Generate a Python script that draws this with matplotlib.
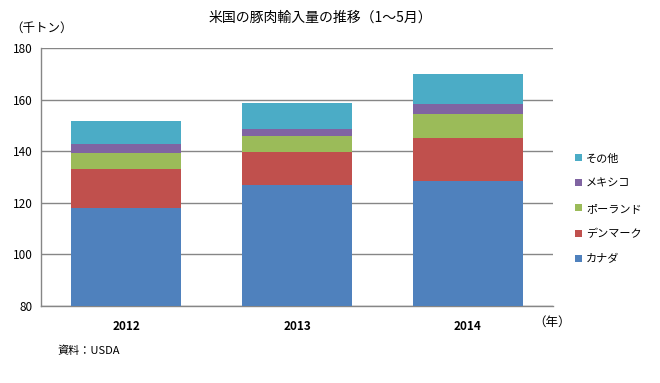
import matplotlib
matplotlib.use("Agg")
import matplotlib.pyplot as plt
import numpy as np

plt.rcParams['font.family'] = ['Noto Sans CJK JP', 'DejaVu Sans']

years = ["2012", "2013", "2014"]
series_names = ["カナダ", "デンマーク", "ポーランド", "メキシコ", "その他"]
canada = [118.0, 126.8, 128.4]
denmark = [15.1, 12.9, 16.7]
poland = [6.1, 6.2, 9.3]
mexico = [3.7, 2.7, 3.9]
other = [8.8, 10.1, 11.6]
colors = ["#4F81BD", "#C0504D", "#9BBB59", "#8064A2", "#4BACC6"]
yticks = [80, 100, 120, 140, 160, 180]

fig = plt.figure(figsize=(6.6, 3.83), dpi=100)
ax = fig.add_axes([41/660, 77/383, 512/660, 258/383])

x = np.arange(len(years))
bottom = np.zeros(len(years))
handles = []
for name, vals, c in zip(series_names, [canada, denmark, poland, mexico, other], colors):
    vals = np.array(vals)
    if name == "カナダ":
        b = ax.bar(x, vals - 80, bottom=80, width=0.643, color=c, zorder=3)
        bottom = vals.copy()
    else:
        b = ax.bar(x, vals, bottom=bottom, width=0.643, color=c, zorder=3)
        bottom = bottom + vals
    handles.append(b)

ax.set_xlim(-0.5, 2.5)
ax.set_ylim(80, 180)
ax.set_yticks(yticks)
ax.set_yticklabels([str(v) for v in yticks], fontsize=8.5)
ax.set_xticks(x)
ax.set_xticklabels(years, fontsize=8.5, fontweight='bold')
ax.tick_params(axis='x', length=0, pad=10)
ax.tick_params(axis='y', length=0, pad=6)
ax.grid(axis='y', color='#868686', linewidth=1, zorder=0)
for s in ['top', 'right']:
    ax.spines[s].set_visible(False)
for s in ['left', 'bottom']:
    ax.spines[s].set_color('#868686')
    ax.spines[s].set_linewidth(1)

fig.text(320/660, 1 - 18/383, "米国の豚肉輸入量の推移（1～5月）", ha='center', va='center', fontsize=10)
fig.text(10/660, 1 - 28/383, "（千トン）", ha='left', va='center', fontsize=9)
fig.text(533/660, 1 - 322/383, "（年）", ha='left', va='center', fontsize=9)
fig.text(57/660, 1 - 351/383, "資料：USDA", ha='left', va='center', fontsize=8)

leg = fig.legend(handles[::-1], series_names[::-1], loc='center left',
                 bbox_to_anchor=(565/660, 1 - 209/383), frameon=False,
                 fontsize=8, handlelength=0.6, handleheight=0.6,
                 handletextpad=0.4, labelspacing=1.35)

fig.savefig("out.png", dpi=100)
